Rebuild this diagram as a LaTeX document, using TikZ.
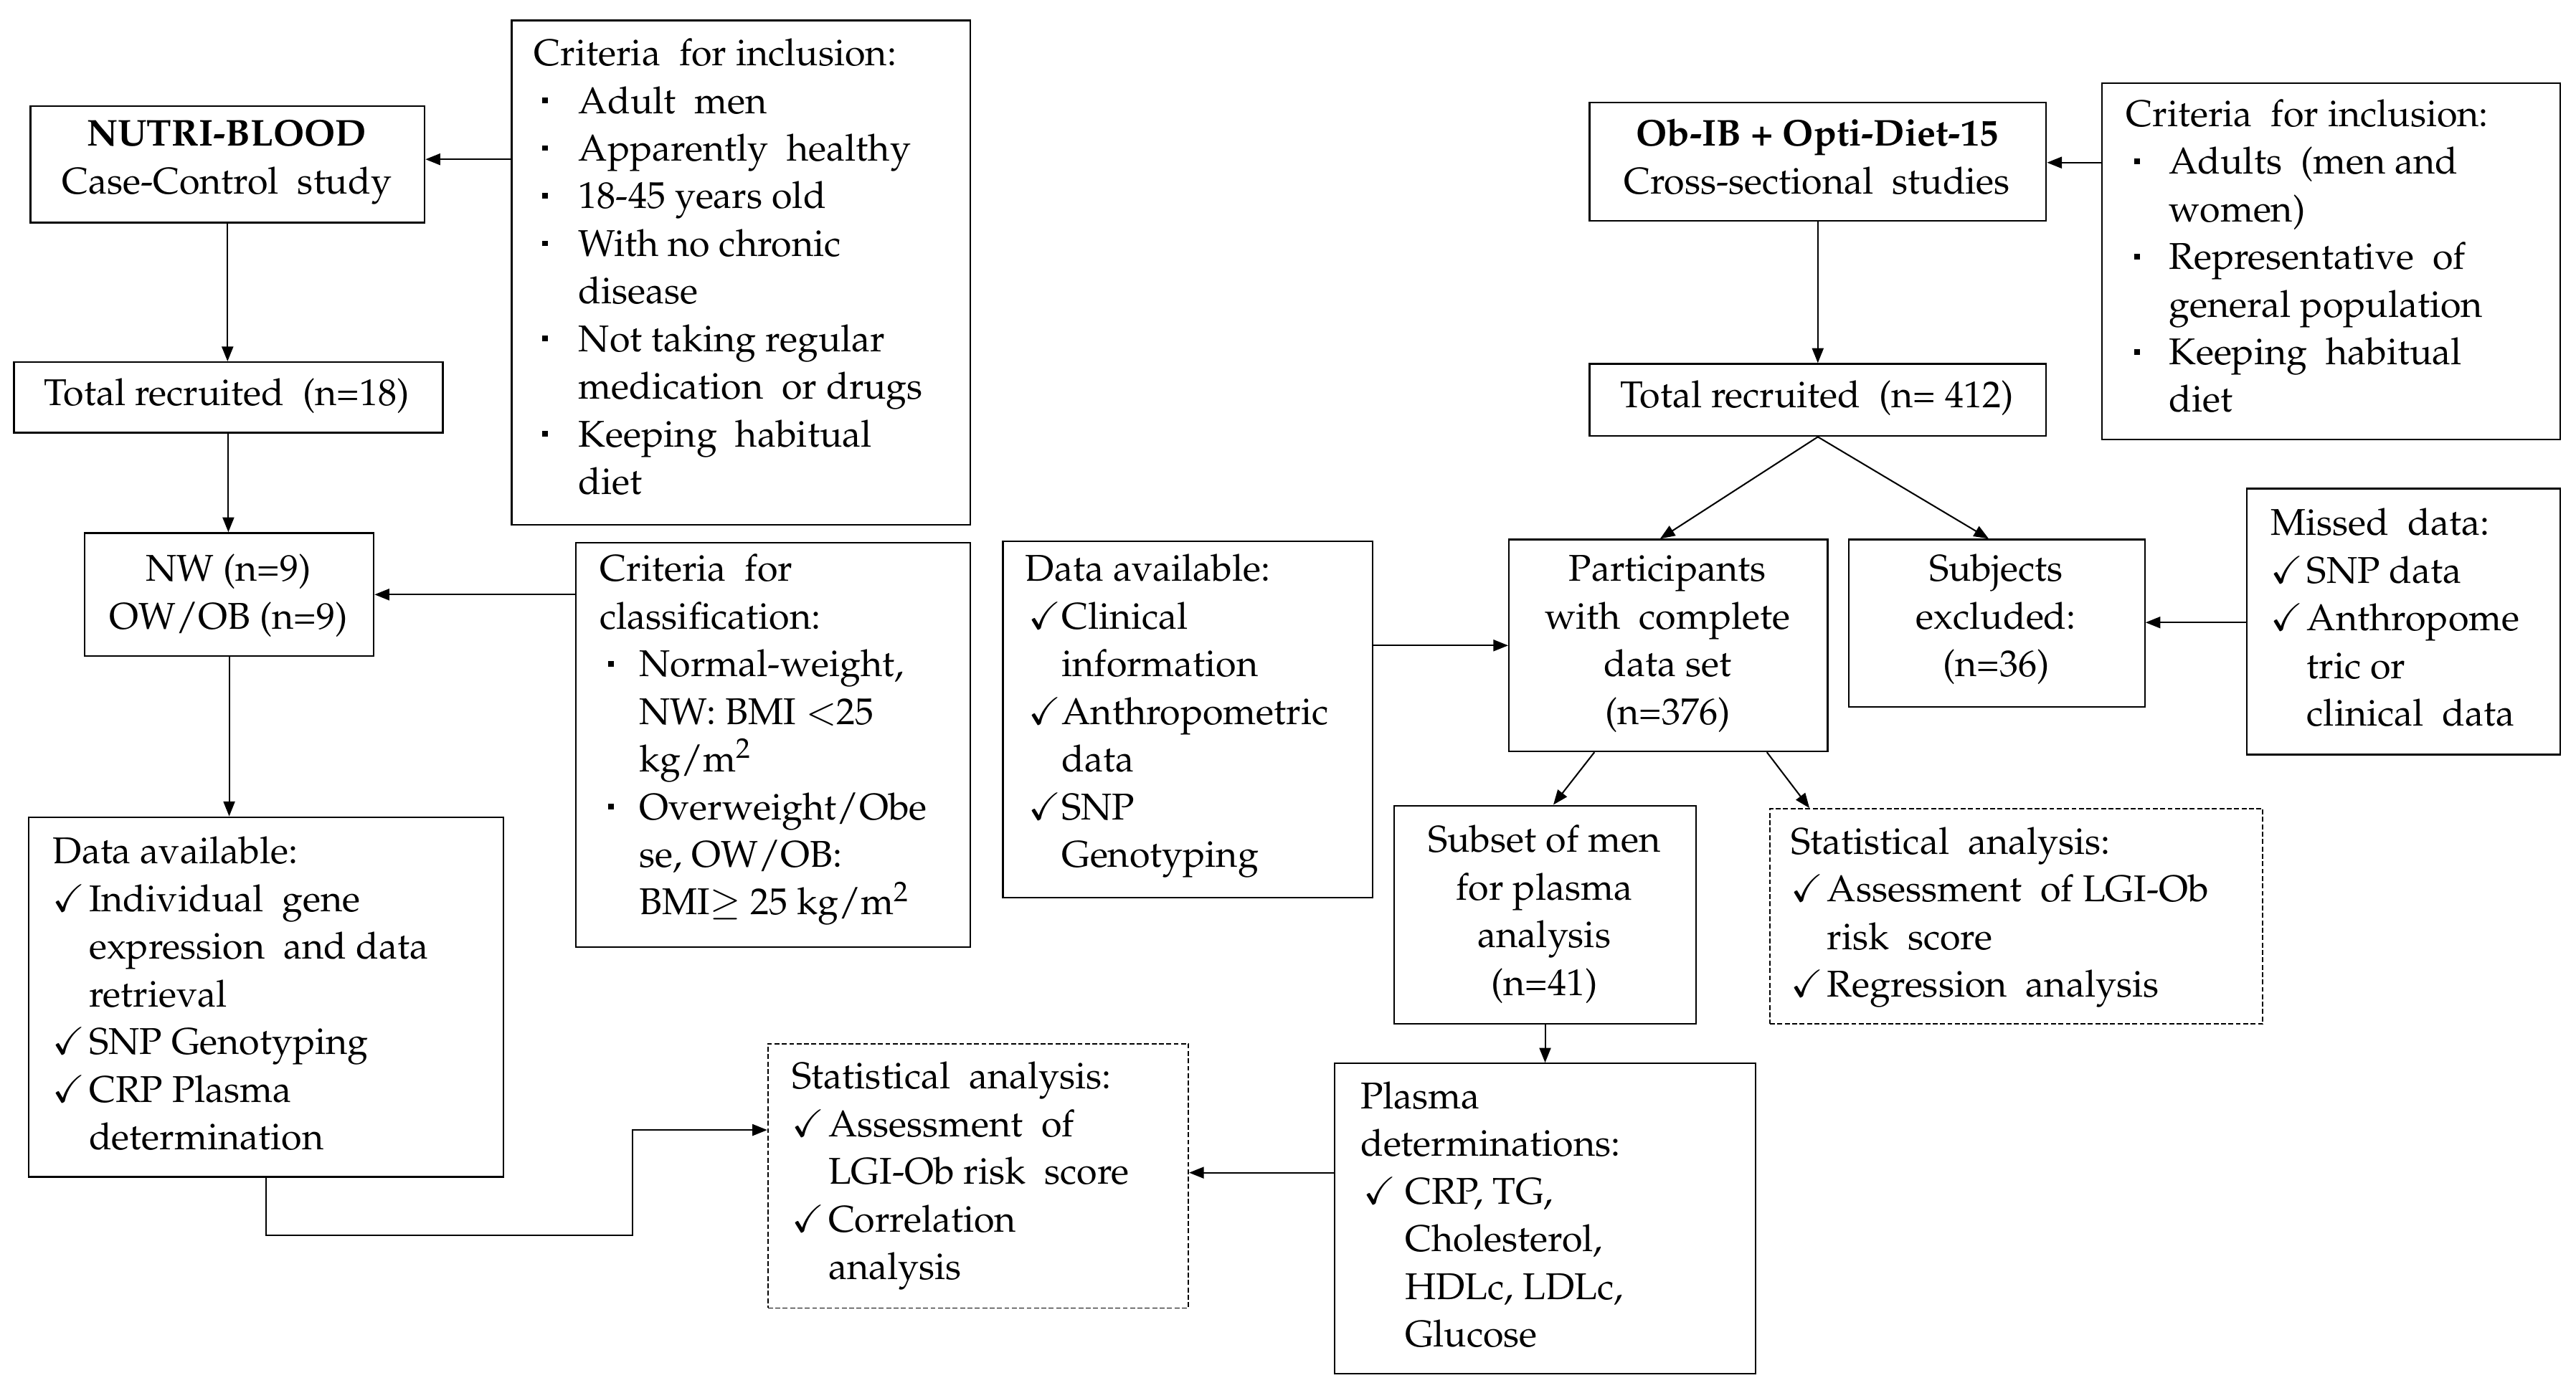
\documentclass[tikz,border=0pt]{standalone}
\usepackage[T1]{fontenc}
\usepackage{mathpazo}
\usepackage{amssymb}
\usetikzlibrary{arrows.meta}
\newcommand{\fs}{\fontsize{22.7}{29}\selectfont}
\newcommand{\bul}{\raisebox{0.27em}{\rule{3.4pt}{3.4pt}}}
\newcommand{\chk}{$\checkmark$}
\newcommand{\itm}[3]{\hspace*{#1}\makebox[#2][l]{#3}}
\newcommand{\cnt}[1]{\hspace*{#1}}
\newcommand{\ws}{\hspace{0.25em}}
\begin{document}
\begin{tikzpicture}[x=1pt,y=-1pt,
  box/.style={draw, line width=1pt, inner sep=0pt, anchor=north west},
  dbox/.style={box, line width=0.8pt, dash pattern=on 3pt off 1.5pt},
  txt/.style={anchor=base west, inner sep=0pt, font=\fs},
  ctxt/.style={anchor=base, inner sep=0pt, font=\fs},
  arr/.style={line width=0.9pt, -{Triangle[length=9pt,width=7pt]}}]
\useasboundingbox (0,0) rectangle (1568,842);

% ---------- boxes ----------
\node[box, minimum width=240pt, minimum height=71pt] (nutri) at (18,64) {};
\node[box, minimum width=279pt, minimum height=307pt] (crit1) at (311,12) {};
\node[box, minimum width=261pt, minimum height=43pt] (tot18) at (8,220) {};
\node[box, minimum width=176pt, minimum height=75pt] (nw) at (51,324) {};
\node[box, minimum width=240pt, minimum height=246pt] (critc) at (350,330) {};
\node[box, minimum width=289pt, minimum height=219pt] (dataL) at (17,497) {};
\node[dbox, minimum width=256pt, minimum height=161pt] (statL) at (467,635) {};
\node[box, minimum width=256pt, minimum height=189pt] (plasma) at (812,647) {};
\node[box, minimum width=278pt, minimum height=72pt] (obib) at (967,62) {};
\node[box, minimum width=279pt, minimum height=217pt] (critR) at (1279,50) {};
\node[box, minimum width=278pt, minimum height=44pt] (tot412) at (967,221) {};
\node[box, minimum width=225pt, minimum height=217pt] (dataM) at (610,329) {};
\node[box, minimum width=194pt, minimum height=129pt] (part) at (918,328) {};
\node[box, minimum width=180pt, minimum height=102pt] (subj) at (1125,328) {};
\node[box, minimum width=191pt, minimum height=162pt] (missed) at (1367,297) {};
\node[box, minimum width=184pt, minimum height=133pt] (subset) at (848,490) {};
\node[dbox, minimum width=300pt, minimum height=131pt] (statR) at (1077,492) {};

% ---------- texts ----------
\node[ctxt] (tnutri) at (138,89) {\begin{tabular}[t]{@{}c@{}}\textbf{NUTRI-BLOOD}\\Case-Control \ws study\end{tabular}};
\node[txt] (tcrit1) at (325,40) {\begin{tabular}[t]{@{}l@{}}
Criteria \ws for inclusion:\\
\itm{5pt}{22pt}{\bul}Adult \ws men\\
\itm{5pt}{22pt}{\bul}Apparently \ws healthy\\
\itm{5pt}{22pt}{\bul}18-45 years old\\
\itm{5pt}{22pt}{\bul}With no chronic\\
\cnt{27pt}disease\\
\itm{5pt}{22pt}{\bul}Not taking regular\\
\cnt{27pt}medication \ws or drugs\\
\itm{5pt}{22pt}{\bul}Keeping \ws habitual\\
\cnt{27pt}diet
\end{tabular}};
\node[ctxt] (ttot18) at (138,247) {Total recruited \ws (n=18)};
\node[ctxt] (tnw) at (139,354) {\begin{tabular}[t]{@{}c@{}}NW (n=9)\\OW/OB (n=9)\end{tabular}};
\node[txt] (tcritc) at (365,354) {\begin{tabular}[t]{@{}l@{}}
Criteria \ws for\\
classification:\\
\itm{5pt}{19pt}{\bul}Normal-weight,\\
\cnt{24pt}NW: BMI $<$25\\
\cnt{24pt}kg/m\textsuperscript{2}\\
\itm{5pt}{19pt}{\bul}Overweight/Obe\\
\cnt{24pt}se, OW/OB:\\
\cnt{24pt}BMI$\geq$ 25 kg/m\textsuperscript{2}
\end{tabular}};
\node[txt] (tdataL) at (32,526) {\begin{tabular}[t]{@{}l@{}}
Data available:\\
\itm{0pt}{22pt}{\chk}Individual \ws gene\\
\cnt{22pt}expression \ws and data\\
\cnt{22pt}retrieval\\
\itm{0pt}{22pt}{\chk}SNP Genotyping\\
\itm{0pt}{22pt}{\chk}CRP Plasma\\
\cnt{22pt}determination
\end{tabular}};
\node[txt] (tstatL) at (482,663) {\begin{tabular}[t]{@{}l@{}}
Statistical \ws analysis:\\
\itm{0pt}{22pt}{\chk}Assessment \ws of\\
\cnt{22pt}LGI-Ob risk \ws score\\
\itm{0pt}{22pt}{\chk}Correlation\\
\cnt{22pt}analysis
\end{tabular}};
\node[txt] (tplasma) at (828,675) {\begin{tabular}[t]{@{}l@{}}
Plasma\\
determinations:\\
\itm{2pt}{25pt}{\chk}CRP, TG,\\
\cnt{27pt}Cholesterol,\\
\cnt{27pt}HDLc, LDLc,\\
\cnt{27pt}Glucose
\end{tabular}};
\node[ctxt] (tobib) at (1106,89) {\begin{tabular}[t]{@{}c@{}}\textbf{Ob-IB + Opti-Diet-15}\\Cross-sectional \ws studies\end{tabular}};
\node[txt] (tcritR) at (1294,77) {\begin{tabular}[t]{@{}l@{}}
Criteria \ws for inclusion:\\
\itm{5pt}{21pt}{\bul}Adults \ws (men and\\
\cnt{26pt}women)\\
\itm{5pt}{21pt}{\bul}Representative \ws of\\
\cnt{26pt}general population\\
\itm{5pt}{21pt}{\bul}Keeping \ws habitual\\
\cnt{26pt}diet
\end{tabular}};
\node[ctxt] (ttot412) at (1106,248) {Total recruited \ws (n= 412)};
\node[txt] (tdataM) at (624,354) {\begin{tabular}[t]{@{}l@{}}
Data available:\\
\itm{2pt}{20pt}{\chk}Clinical\\
\cnt{22pt}information\\
\itm{2pt}{20pt}{\chk}Anthropometric\\
\cnt{22pt}data\\
\itm{2pt}{20pt}{\chk}SNP\\
\cnt{22pt}Genotyping
\end{tabular}};
\node[ctxt] (tpart) at (1015,354) {\begin{tabular}[t]{@{}c@{}}Participants\\with \ws complete\\data set\\(n=376)\end{tabular}};
\node[ctxt] (tsubj) at (1215,354) {\begin{tabular}[t]{@{}c@{}}Subjects\\excluded:\\(n=36)\end{tabular}};
\node[txt] (tmissed) at (1382,326) {\begin{tabular}[t]{@{}l@{}}
Missed \ws data:\\
\itm{0pt}{22pt}{\chk}SNP data\\
\itm{0pt}{22pt}{\chk}Anthropome\\
\cnt{22pt}tric or\\
\cnt{22pt}clinical \ws data
\end{tabular}};
\node[ctxt] (tsubset) at (940,519) {\begin{tabular}[t]{@{}c@{}}Subset of men\\for plasma\\analysis\\(n=41)\end{tabular}};
\node[txt] (tstatR) at (1090,520) {\begin{tabular}[t]{@{}l@{}}
Statistical \ws analysis:\\
\itm{0pt}{22pt}{\chk}Assessment \ws of LGI-Ob\\
\cnt{22pt}risk \ws score\\
\itm{0pt}{22pt}{\chk}Regression \ws analysis
\end{tabular}};

% ---------- connectors ----------
\coordinate (a1) at (0,97);
\coordinate (a2) at (0,362);
\coordinate (a3) at (385,752);
\coordinate (a4) at (0,688);
\coordinate (a5) at (0,714);
\coordinate (a6) at (0,99);
\coordinate (a7) at (0,379);
\coordinate (a8) at (0,393);
\draw[arr] (crit1.west |- a1) -- (nutri.east |- a1);
\draw[arr] (nutri.south) -- (nutri.south |- tot18.north);
\draw[arr] (tot18.south) -- (tot18.south |- nw.north);
\draw[arr] (critc.west |- a2) -- (nw.east |- a2);
\draw[arr] (nw.south) -- (nw.south |- dataL.north);
\draw[arr] (dataL.south) |- (a3) |- (statL.west |- a4);
\draw[arr] (plasma.west |- a5) -- (statL.east |- a5);
\draw[arr] (obib.south) -- (obib.south |- tot412.north);
\draw[arr] (critR.west |- a6) -- (obib.east |- a6);
\draw[arr] (tot412.south) -- ([xshift=-5pt]part.north);
\draw[arr] (tot412.south) -- ([xshift=-5pt]subj.north);
\draw[arr] (missed.west |- a7) -- (subj.east |- a7);
\draw[arr] (dataM.east |- a8) -- (part.west |- a8);
\draw[arr] ([xshift=-45pt]part.south) -- ([xshift=5pt]subset.north);
\draw[arr] ([xshift=60pt]part.south) -- ([xshift=-126pt]statR.north);
\draw[arr] (subset.south) -- (subset.south |- plasma.north);
\end{tikzpicture}
\end{document}
